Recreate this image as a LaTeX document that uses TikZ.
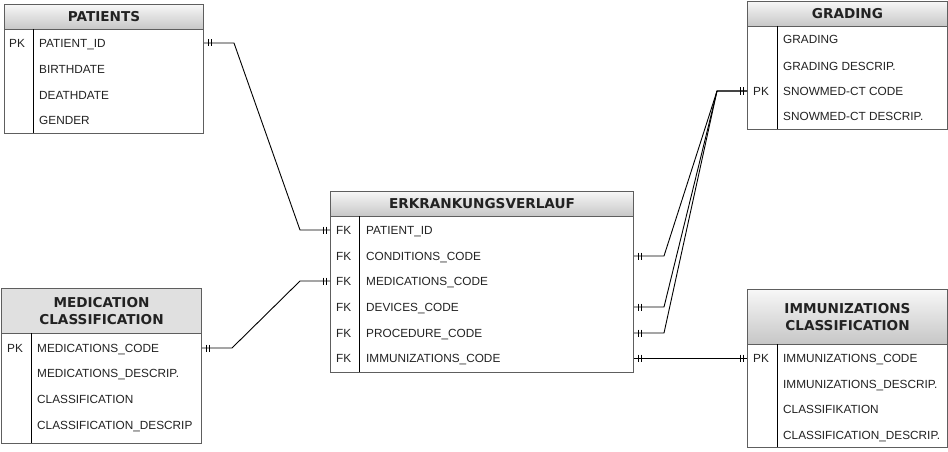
\documentclass[tikz,border=0pt]{standalone}
\usepackage{fontspec}
\setmainfont{Liberation Sans}
\newfontfamily\hdfont{DejaVu Sans}
\usetikzlibrary{calc}
\definecolor{bord}{HTML}{5E5E5E}
\definecolor{hdtop}{HTML}{F7F7F7}
\definecolor{hdbot}{HTML}{C6C6C6}
\definecolor{hdflat}{HTML}{E0E0E0}
\definecolor{txt}{HTML}{222222}
\tikzset{
  hdr/.style={draw=bord, line width=1pt, top color=hdtop, bottom color=hdbot, anchor=north west,
    inner sep=0pt, align=center, text=txt, font=\hdfont\bfseries\fontsize{13.6}{16.5}\selectfont},
  hdrflat/.style={hdr, top color=hdflat, bottom color=hdflat},
  tbody/.style={draw=bord, line width=1pt, fill=white, anchor=north west, inner sep=0pt},
  fld/.style={anchor=west, inner sep=0pt, text height=8.5pt, text depth=0pt, text=txt,
    font=\fontsize{11.8}{14}\selectfont},
  divline/.style={draw=black, line width=1pt},
  conn/.style={draw=black, line width=0.9pt},
  bars/.pic={\draw[line width=0.9pt] (4,-3.5) -- (4,3.5) (7,-3.5) -- (7,3.5);}
}
\begin{document}
\begin{tikzpicture}[x=1pt,y=-1pt]
\useasboundingbox (0,0) rectangle (948,452);

% ---------- PATIENTS ----------
\node[tbody, minimum width=199pt, minimum height=104pt] (patb) at (4,29) {};
\node[hdr, minimum width=199pt, minimum height=25pt] (pat) at (4,4) {PATIENTS};
\draw[divline] (33,29) -- (33,133);
\node[fld] (patk1) at (9,43) {PK};
\node[fld] (pat1) at (39,43) {PATIENT\_ID};
\node[fld] (pat2) at (39,69) {BIRTHDATE};
\node[fld] (pat3) at (39,95) {DEATHDATE};
\node[fld] (pat4) at (39,120) {GENDER};

% ---------- ERKRANKUNGSVERLAUF ----------
\node[tbody, minimum width=303pt, minimum height=156pt] (erb) at (330,216) {};
\node[hdr, minimum width=303pt, minimum height=25pt] (er) at (330,191) {ERKRANKUNGSVERLAUF};
\draw[divline] (359,216) -- (359,372);
\foreach \y/\n in {230/1,256/2,281/3,307/4,333/5,358/6}
  \node[fld] (erk\n) at (336,\y) {FK};
\node[fld] (er1) at (366,230) {PATIENT\_ID};
\node[fld] (er2) at (366,256) {CONDITIONS\_CODE};
\node[fld] (er3) at (366,281) {MEDICATIONS\_CODE};
\node[fld] (er4) at (366,307) {DEVICES\_CODE};
\node[fld] (er5) at (366,333) {PROCEDURE\_CODE};
\node[fld] (er6) at (366,358) {IMMUNIZATIONS\_CODE};

% ---------- GRADING ----------
\node[tbody, minimum width=200pt, minimum height=103pt] (grb) at (747,26) {};
\node[hdr, minimum width=200pt, minimum height=25pt] (gr) at (747,1) {GRADING};
\draw[divline] (777,26) -- (777,129);
\node[fld] (grk3) at (753,91) {PK};
\node[fld] (gr1) at (783,39) {GRADING};
\node[fld] (gr2) at (783,66) {GRADING DESCRIP.};
\node[fld] (gr3) at (783,91) {SNOWMED-CT CODE};
\node[fld] (gr4) at (783,116) {SNOWMED-CT DESCRIP.};

% ---------- MEDICATION CLASSIFICATION ----------
\node[tbody, minimum width=200pt, minimum height=110pt] (medb) at (1,333) {};
\node[hdrflat, minimum width=200pt, minimum height=45pt] (med) at (1,288) {MEDICATION\\CLASSIFICATION};
\draw[divline] (31,333) -- (31,443);
\node[fld] (medk1) at (7,348) {PK};
\node[fld] (med1) at (37,348) {MEDICATIONS\_CODE};
\node[fld] (med2) at (37,373) {MEDICATIONS\_DESCRIP.};
\node[fld] (med3) at (37,399) {CLASSIFICATION};
\node[fld] (med4) at (37,425) {CLASSIFICATION\_DESCRIP};

% ---------- IMMUNIZATIONS CLASSIFICATION ----------
\node[tbody, minimum width=200pt, minimum height=103pt] (imb) at (747,344) {};
\node[hdr, minimum width=200pt, minimum height=55pt] (im) at (747,289) {IMMUNIZATIONS\\CLASSIFICATION};
\draw[divline] (777,344) -- (777,447);
\node[fld] (imk1) at (753,358) {PK};
\node[fld] (im1) at (783,358) {IMMUNIZATIONS\_CODE};
\node[fld] (im2) at (783,384) {IMMUNIZATIONS\_DESCRIP.};
\node[fld] (im3) at (783,409) {CLASSIFIKATION};
\node[fld] (im4) at (783,435) {CLASSIFICATION\_DESCRIP.};

% ---------- connectors ----------
% PATIENTS -- ERKRANKUNGSVERLAUF
\draw[conn] (patb.east |- pat1) -- ++(30,0) -- ($(erb.west |- er1)+(-30,0)$) -- (erb.west |- er1);
\pic at (patb.east |- pat1) {bars};
\pic[xscale=-1] at (erb.west |- er1) {bars};

% MEDICATION -- ERKRANKUNGSVERLAUF
\draw[conn] (medb.east |- med1) -- ++(30,0) -- ($(erb.west |- er3)+(-30,0)$) -- (erb.west |- er3);
\pic at (medb.east |- med1) {bars};
\pic[xscale=-1] at (erb.west |- er3) {bars};

% ERKRANKUNGSVERLAUF -- GRADING
\foreach \r in {er2,er4,er5}{
  \draw[conn] (erb.east |- \r) -- ++(30,0) -- ($(grb.west |- gr3)+(-30,0)$) -- (grb.west |- gr3);
  \pic at (erb.east |- \r) {bars};
}
\pic[xscale=-1] at (grb.west |- gr3) {bars};

% ERKRANKUNGSVERLAUF -- IMMUNIZATIONS
\draw[conn] (erb.east |- er6) -- (imb.west |- im1);
\pic at (erb.east |- er6) {bars};
\pic[xscale=-1] at (imb.west |- im1) {bars};
\end{tikzpicture}
\end{document}
